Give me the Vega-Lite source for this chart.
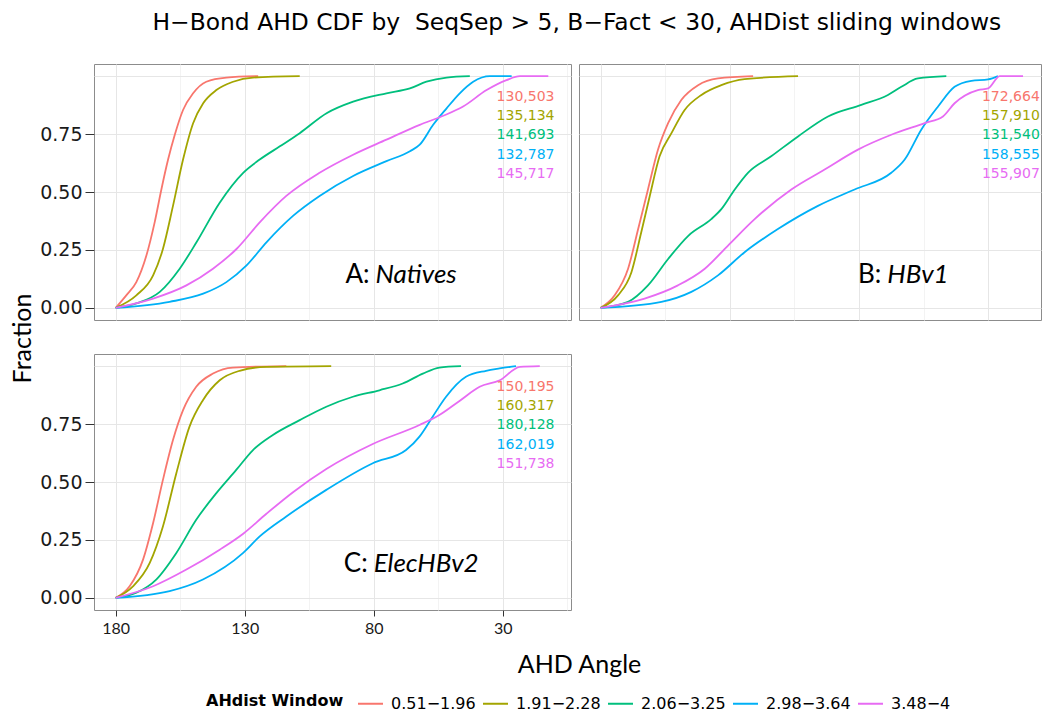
{
  "$schema": "https://vega.github.io/schema/vega-lite/v6.json",
  "background": "white",
  "padding": {"left": 10, "top": 11, "right": 0, "bottom": 0},
  "bounds": "flush",
  "align": "each",
  "columns": 2,
  "spacing": {"row": 34, "column": 8},
  "title": {"text": "H−Bond AHD CDF by \u00a0SeqSep > 5, B−Fact < 30, AHDist sliding windows", "font": "DejaVu Sans", "fontSize": 23.4, "fontWeight": "normal", "color": "#000", "anchor": "middle", "offset": 28, "dx": 51},
  "datasets": {
    "curves": [
      {"panel":"A","window":"0.51−1.96","angle":180,"frac":0},{"panel":"A","window":"0.51−1.96","angle":175.9,"frac":0.054},{"panel":"A","window":"0.51−1.96","angle":172,"frac":0.111},{"panel":"A","window":"0.51−1.96","angle":168.1,"frac":0.226},{"panel":"A","window":"0.51−1.96","angle":164.9,"frac":0.369},{"panel":"A","window":"0.51−1.96","angle":162.3,"frac":0.511},{"panel":"A","window":"0.51−1.96","angle":159.7,"frac":0.64},{"panel":"A","window":"0.51−1.96","angle":157.1,"frac":0.747},{"panel":"A","window":"0.51−1.96","angle":153.9,"frac":0.854},{"panel":"A","window":"0.51−1.96","angle":150,"frac":0.926},{"panel":"A","window":"0.51−1.96","angle":144.9,"frac":0.976},{"panel":"A","window":"0.51−1.96","angle":137.1,"frac":0.994},{"panel":"A","window":"0.51−1.96","angle":124.8,"frac":1},
      {"panel":"A","window":"1.91−2.28","angle":180,"frac":0},{"panel":"A","window":"1.91−2.28","angle":172,"frac":0.054},{"panel":"A","window":"1.91−2.28","angle":165.5,"frac":0.14},{"panel":"A","window":"1.91−2.28","angle":161.7,"frac":0.254},{"panel":"A","window":"1.91−2.28","angle":157.8,"frac":0.44},{"panel":"A","window":"1.91−2.28","angle":153.9,"frac":0.64},{"panel":"A","window":"1.91−2.28","angle":150,"frac":0.797},{"panel":"A","window":"1.91−2.28","angle":146.1,"frac":0.883},{"panel":"A","window":"1.91−2.28","angle":141,"frac":0.94},{"panel":"A","window":"1.91−2.28","angle":134.5,"frac":0.976},{"panel":"A","window":"1.91−2.28","angle":126.8,"frac":0.994},{"panel":"A","window":"1.91−2.28","angle":108.7,"frac":1},
      {"panel":"A","window":"2.06−3.25","angle":180,"frac":0},{"panel":"A","window":"2.06−3.25","angle":172,"frac":0.019},{"panel":"A","window":"2.06−3.25","angle":162.9,"frac":0.069},{"panel":"A","window":"2.06−3.25","angle":155.2,"frac":0.169},{"panel":"A","window":"2.06−3.25","angle":148.7,"frac":0.283},{"panel":"A","window":"2.06−3.25","angle":139.7,"frac":0.454},{"panel":"A","window":"2.06−3.25","angle":130.6,"frac":0.583},{"panel":"A","window":"2.06−3.25","angle":124.2,"frac":0.64},{"panel":"A","window":"2.06−3.25","angle":116.4,"frac":0.697},{"panel":"A","window":"2.06−3.25","angle":108.7,"frac":0.754},{"panel":"A","window":"2.06−3.25","angle":98.3,"frac":0.84},{"panel":"A","window":"2.06−3.25","angle":88,"frac":0.89},{"panel":"A","window":"2.06−3.25","angle":75.1,"frac":0.926},{"panel":"A","window":"2.06−3.25","angle":66,"frac":0.947},{"panel":"A","window":"2.06−3.25","angle":59.6,"frac":0.976},{"panel":"A","window":"2.06−3.25","angle":51.8,"frac":0.994},{"panel":"A","window":"2.06−3.25","angle":42.8,"frac":1},
      {"panel":"A","window":"2.98−3.64","angle":180,"frac":0},{"panel":"A","window":"2.98−3.64","angle":159.1,"frac":0.026},{"panel":"A","window":"2.98−3.64","angle":146.1,"frac":0.061},{"panel":"A","window":"2.98−3.64","angle":137.1,"frac":0.111},{"panel":"A","window":"2.98−3.64","angle":129.3,"frac":0.183},{"panel":"A","window":"2.98−3.64","angle":121.6,"frac":0.283},{"panel":"A","window":"2.98−3.64","angle":111.3,"frac":0.397},{"panel":"A","window":"2.98−3.64","angle":101,"frac":0.483},{"panel":"A","window":"2.98−3.64","angle":88,"frac":0.569},{"panel":"A","window":"2.98−3.64","angle":75.1,"frac":0.633},{"panel":"A","window":"2.98−3.64","angle":66,"frac":0.676},{"panel":"A","window":"2.98−3.64","angle":62.2,"frac":0.704},{"panel":"A","window":"2.98−3.64","angle":57,"frac":0.79},{"panel":"A","window":"2.98−3.64","angle":51.8,"frac":0.861},{"panel":"A","window":"2.98−3.64","angle":46.7,"frac":0.926},{"panel":"A","window":"2.98−3.64","angle":41.5,"frac":0.976},{"panel":"A","window":"2.98−3.64","angle":35,"frac":1},{"panel":"A","window":"2.98−3.64","angle":26.6,"frac":1},
      {"panel":"A","window":"3.48−4","angle":180,"frac":0},{"panel":"A","window":"3.48−4","angle":165.5,"frac":0.04},{"panel":"A","window":"3.48−4","angle":152.6,"frac":0.097},{"panel":"A","window":"3.48−4","angle":142.3,"frac":0.169},{"panel":"A","window":"3.48−4","angle":133.2,"frac":0.254},{"panel":"A","window":"3.48−4","angle":124.2,"frac":0.369},{"panel":"A","window":"3.48−4","angle":113.9,"frac":0.483},{"panel":"A","window":"3.48−4","angle":101,"frac":0.583},{"panel":"A","window":"3.48−4","angle":88,"frac":0.661},{"panel":"A","window":"3.48−4","angle":75.1,"frac":0.726},{"panel":"A","window":"3.48−4","angle":62.2,"frac":0.79},{"panel":"A","window":"3.48−4","angle":53.1,"frac":0.829},{"panel":"A","window":"3.48−4","angle":45.4,"frac":0.869},{"panel":"A","window":"3.48−4","angle":36.3,"frac":0.94},{"panel":"A","window":"3.48−4","angle":28.6,"frac":0.983},{"panel":"A","window":"3.48−4","angle":23.4,"frac":1},{"panel":"A","window":"3.48−4","angle":12.4,"frac":1},

      {"panel":"B","window":"0.51−1.96","angle":180,"frac":0},{"panel":"B","window":"0.51−1.96","angle":174.6,"frac":0.054},{"panel":"B","window":"0.51−1.96","angle":169.4,"frac":0.169},{"panel":"B","window":"0.51−1.96","angle":165.5,"frac":0.34},{"panel":"B","window":"0.51−1.96","angle":161.7,"frac":0.511},{"panel":"B","window":"0.51−1.96","angle":157.8,"frac":0.683},{"panel":"B","window":"0.51−1.96","angle":153.9,"frac":0.797},{"panel":"B","window":"0.51−1.96","angle":148.8,"frac":0.897},{"panel":"B","window":"0.51−1.96","angle":142.3,"frac":0.961},{"panel":"B","window":"0.51−1.96","angle":134.6,"frac":0.99},{"panel":"B","window":"0.51−1.96","angle":121,"frac":1},
      {"panel":"B","window":"1.91−2.28","angle":180,"frac":0},{"panel":"B","window":"1.91−2.28","angle":173.3,"frac":0.054},{"panel":"B","window":"1.91−2.28","angle":168.1,"frac":0.154},{"panel":"B","window":"1.91−2.28","angle":164.3,"frac":0.326},{"panel":"B","window":"1.91−2.28","angle":161,"frac":0.483},{"panel":"B","window":"1.91−2.28","angle":157.2,"frac":0.654},{"panel":"B","window":"1.91−2.28","angle":152.6,"frac":0.754},{"panel":"B","window":"1.91−2.28","angle":147.5,"frac":0.854},{"panel":"B","window":"1.91−2.28","angle":141,"frac":0.919},{"panel":"B","window":"1.91−2.28","angle":133.3,"frac":0.961},{"panel":"B","window":"1.91−2.28","angle":124.3,"frac":0.987},{"panel":"B","window":"1.91−2.28","angle":103.6,"frac":1},
      {"panel":"B","window":"2.06−3.25","angle":180,"frac":0},{"panel":"B","window":"2.06−3.25","angle":169.4,"frac":0.026},{"panel":"B","window":"2.06−3.25","angle":161.7,"frac":0.097},{"panel":"B","window":"2.06−3.25","angle":153.9,"frac":0.211},{"panel":"B","window":"2.06−3.25","angle":146.1,"frac":0.311},{"panel":"B","window":"2.06−3.25","angle":137.2,"frac":0.383},{"panel":"B","window":"2.06−3.25","angle":133.3,"frac":0.426},{"panel":"B","window":"2.06−3.25","angle":128.1,"frac":0.511},{"panel":"B","window":"2.06−3.25","angle":123,"frac":0.583},{"panel":"B","window":"2.06−3.25","angle":114,"frac":0.654},{"panel":"B","window":"2.06−3.25","angle":103.6,"frac":0.74},{"panel":"B","window":"2.06−3.25","angle":92,"frac":0.826},{"panel":"B","window":"2.06−3.25","angle":79.1,"frac":0.876},{"panel":"B","window":"2.06−3.25","angle":68.8,"frac":0.919},{"panel":"B","window":"2.06−3.25","angle":63.6,"frac":0.954},{"panel":"B","window":"2.06−3.25","angle":57.2,"frac":0.99},{"panel":"B","window":"2.06−3.25","angle":46.2,"frac":1},
      {"panel":"B","window":"2.98−3.64","angle":180,"frac":0},{"panel":"B","window":"2.98−3.64","angle":156.5,"frac":0.026},{"panel":"B","window":"2.98−3.64","angle":144.9,"frac":0.069},{"panel":"B","window":"2.98−3.64","angle":134.6,"frac":0.14},{"panel":"B","window":"2.98−3.64","angle":124.3,"frac":0.24},{"panel":"B","window":"2.98−3.64","angle":111.4,"frac":0.34},{"panel":"B","window":"2.98−3.64","angle":95.9,"frac":0.44},{"panel":"B","window":"2.98−3.64","angle":81.7,"frac":0.511},{"panel":"B","window":"2.98−3.64","angle":67.5,"frac":0.583},{"panel":"B","window":"2.98−3.64","angle":62.3,"frac":0.64},{"panel":"B","window":"2.98−3.64","angle":55.9,"frac":0.769},{"panel":"B","window":"2.98−3.64","angle":49.4,"frac":0.869},{"panel":"B","window":"2.98−3.64","angle":43,"frac":0.954},{"panel":"B","window":"2.98−3.64","angle":36.5,"frac":0.98},{"panel":"B","window":"2.98−3.64","angle":30,"frac":0.986},{"panel":"B","window":"2.98−3.64","angle":26.2,"frac":1},
      {"panel":"B","window":"3.48−4","angle":180,"frac":0},{"panel":"B","window":"3.48−4","angle":163,"frac":0.04},{"panel":"B","window":"3.48−4","angle":150.1,"frac":0.097},{"panel":"B","window":"3.48−4","angle":139.7,"frac":0.169},{"panel":"B","window":"3.48−4","angle":130.7,"frac":0.269},{"panel":"B","window":"3.48−4","angle":120.4,"frac":0.383},{"panel":"B","window":"3.48−4","angle":106.2,"frac":0.511},{"panel":"B","window":"3.48−4","angle":93.3,"frac":0.597},{"panel":"B","window":"3.48−4","angle":80.4,"frac":0.683},{"panel":"B","window":"3.48−4","angle":67.5,"frac":0.747},{"panel":"B","window":"3.48−4","angle":54.6,"frac":0.797},{"panel":"B","window":"3.48−4","angle":47.5,"frac":0.826},{"panel":"B","window":"3.48−4","angle":43,"frac":0.883},{"panel":"B","window":"3.48−4","angle":34,"frac":0.94},{"panel":"B","window":"3.48−4","angle":30,"frac":0.947},{"panel":"B","window":"3.48−4","angle":25.5,"frac":1},{"panel":"B","window":"3.48−4","angle":16.5,"frac":1},

      {"panel":"C","window":"0.51−1.96","angle":180,"frac":0},{"panel":"C","window":"0.51−1.96","angle":174.6,"frac":0.05},{"panel":"C","window":"0.51−1.96","angle":169.4,"frac":0.165},{"panel":"C","window":"0.51−1.96","angle":165.5,"frac":0.323},{"panel":"C","window":"0.51−1.96","angle":161.7,"frac":0.509},{"panel":"C","window":"0.51−1.96","angle":157.8,"frac":0.681},{"panel":"C","window":"0.51−1.96","angle":153.9,"frac":0.81},{"panel":"C","window":"0.51−1.96","angle":148.8,"frac":0.911},{"panel":"C","window":"0.51−1.96","angle":142.3,"frac":0.968},{"panel":"C","window":"0.51−1.96","angle":134.6,"frac":0.994},{"panel":"C","window":"0.51−1.96","angle":113.9,"frac":1},
      {"panel":"C","window":"1.91−2.28","angle":180,"frac":0},{"panel":"C","window":"1.91−2.28","angle":173.3,"frac":0.05},{"panel":"C","window":"1.91−2.28","angle":166.8,"frac":0.151},{"panel":"C","window":"1.91−2.28","angle":161.7,"frac":0.308},{"panel":"C","window":"1.91−2.28","angle":156.5,"frac":0.538},{"panel":"C","window":"1.91−2.28","angle":151.4,"frac":0.739},{"panel":"C","window":"1.91−2.28","angle":146.2,"frac":0.853},{"panel":"C","window":"1.91−2.28","angle":139.7,"frac":0.939},{"panel":"C","window":"1.91−2.28","angle":132,"frac":0.98},{"panel":"C","window":"1.91−2.28","angle":121.7,"frac":0.997},{"panel":"C","window":"1.91−2.28","angle":96.5,"frac":1},
      {"panel":"C","window":"2.06−3.25","angle":180,"frac":0},{"panel":"C","window":"2.06−3.25","angle":172,"frac":0.022},{"panel":"C","window":"2.06−3.25","angle":164.3,"frac":0.079},{"panel":"C","window":"2.06−3.25","angle":156.5,"frac":0.194},{"panel":"C","window":"2.06−3.25","angle":148.8,"frac":0.337},{"panel":"C","window":"2.06−3.25","angle":141,"frac":0.452},{"panel":"C","window":"2.06−3.25","angle":133.3,"frac":0.552},{"panel":"C","window":"2.06−3.25","angle":126.8,"frac":0.638},{"panel":"C","window":"2.06−3.25","angle":119.1,"frac":0.703},{"panel":"C","window":"2.06−3.25","angle":108.7,"frac":0.767},{"panel":"C","window":"2.06−3.25","angle":98.4,"frac":0.825},{"panel":"C","window":"2.06−3.25","angle":88.1,"frac":0.868},{"panel":"C","window":"2.06−3.25","angle":77.8,"frac":0.896},{"panel":"C","window":"2.06−3.25","angle":68.8,"frac":0.925},{"panel":"C","window":"2.06−3.25","angle":61,"frac":0.968},{"panel":"C","window":"2.06−3.25","angle":54.6,"frac":0.994},{"panel":"C","window":"2.06−3.25","angle":46.2,"frac":1},
      {"panel":"C","window":"2.98−3.64","angle":180,"frac":0},{"panel":"C","window":"2.98−3.64","angle":159.1,"frac":0.029},{"panel":"C","window":"2.98−3.64","angle":146.2,"frac":0.079},{"panel":"C","window":"2.98−3.64","angle":130.6,"frac":0.194},{"panel":"C","window":"2.98−3.64","angle":124.2,"frac":0.265},{"panel":"C","window":"2.98−3.64","angle":113.9,"frac":0.351},{"panel":"C","window":"2.98−3.64","angle":98.4,"frac":0.466},{"panel":"C","window":"2.98−3.64","angle":80.4,"frac":0.581},{"panel":"C","window":"2.98−3.64","angle":67.5,"frac":0.638},{"panel":"C","window":"2.98−3.64","angle":62.3,"frac":0.696},{"panel":"C","window":"2.98−3.64","angle":57.2,"frac":0.782},{"panel":"C","window":"2.98−3.64","angle":52,"frac":0.868},{"panel":"C","window":"2.98−3.64","angle":44.3,"frac":0.954},{"panel":"C","window":"2.98−3.64","angle":36.5,"frac":0.98},{"panel":"C","window":"2.98−3.64","angle":31.3,"frac":0.99},{"panel":"C","window":"2.98−3.64","angle":24.9,"frac":1},
      {"panel":"C","window":"3.48−4","angle":180,"frac":0},{"panel":"C","window":"3.48−4","angle":165.5,"frac":0.05},{"panel":"C","window":"3.48−4","angle":152.6,"frac":0.122},{"panel":"C","window":"3.48−4","angle":139.7,"frac":0.208},{"panel":"C","window":"3.48−4","angle":130.6,"frac":0.277},{"panel":"C","window":"3.48−4","angle":121.6,"frac":0.363},{"panel":"C","window":"3.48−4","angle":111.3,"frac":0.456},{"panel":"C","window":"3.48−4","angle":98.4,"frac":0.556},{"panel":"C","window":"3.48−4","angle":80.4,"frac":0.664},{"panel":"C","window":"3.48−4","angle":62.3,"frac":0.746},{"panel":"C","window":"3.48−4","angle":54.6,"frac":0.789},{"panel":"C","window":"3.48−4","angle":46.8,"frac":0.85},{"panel":"C","window":"3.48−4","angle":39,"frac":0.911},{"panel":"C","window":"3.48−4","angle":31.2,"frac":0.939},{"panel":"C","window":"3.48−4","angle":23.4,"frac":0.997},{"panel":"C","window":"3.48−4","angle":15.7,"frac":1}
    ],
    "counts": [
      {"panel":"A","window":"0.51−1.96","n":"130,503","angle":10,"frac":0.912},
      {"panel":"A","window":"1.91−2.28","n":"135,134","angle":10,"frac":0.828},
      {"panel":"A","window":"2.06−3.25","n":"141,693","angle":10,"frac":0.744},
      {"panel":"A","window":"2.98−3.64","n":"132,787","angle":10,"frac":0.66},
      {"panel":"A","window":"3.48−4","n":"145,717","angle":10,"frac":0.576},
      {"panel":"B","window":"0.51−1.96","n":"172,664","angle":10,"frac":0.912},
      {"panel":"B","window":"1.91−2.28","n":"157,910","angle":10,"frac":0.828},
      {"panel":"B","window":"2.06−3.25","n":"131,540","angle":10,"frac":0.744},
      {"panel":"B","window":"2.98−3.64","n":"158,555","angle":10,"frac":0.66},
      {"panel":"B","window":"3.48−4","n":"155,907","angle":10,"frac":0.576},
      {"panel":"C","window":"0.51−1.96","n":"150,195","angle":10,"frac":0.912},
      {"panel":"C","window":"1.91−2.28","n":"160,317","angle":10,"frac":0.828},
      {"panel":"C","window":"2.06−3.25","n":"180,128","angle":10,"frac":0.744},
      {"panel":"C","window":"2.98−3.64","n":"162,019","angle":10,"frac":0.66},
      {"panel":"C","window":"3.48−4","n":"151,738","angle":10,"frac":0.576}
    ],
    "tags": [
      {"panel":"A","letter":"A:","name":"Natives","angle":80.5,"frac":0.14},
      {"panel":"B","letter":"B:","name":"HBv1","angle":70.2,"frac":0.14},
      {"panel":"C","letter":"C:","name":"ElecHBv2","angle":81.2,"frac":0.144}
    ]
  },
  "concat": [
    {
      "width": 477, "height": 256,
      "layer": [
        {
          "data": {"name": "curves"},
          "transform": [{"filter": "datum.panel == 'A'"}],
          "mark": {"type": "line", "interpolate": "monotone", "strokeWidth": 1.8},
          "encoding": {
            "x": {"field": "angle", "type": "quantitative", "scale": {"domain": [3.6, 188.4], "reverse": true, "nice": false, "zero": false},
              "axis": {"values": [180,155,130,105,80,55,30,5], "labels": false, "ticks": false, "domain": false, "title": null,
                "gridColor": {"condition": {"test": "(180 - datum.value) % 50 != 0", "value": "#f3f3f3"}, "value": "#e6e6e6"}}},
            "y": {"field": "frac", "type": "quantitative", "scale": {"domain": [-0.0525, 1.0525], "nice": false, "zero": false},
              "axis": {"values": [0,0.125,0.25,0.375,0.5,0.625,0.75,0.875,1], "title": "Fraction", "titleY": 274,
                "labelExpr": "(datum.value*8) % 2 == 0 && datum.value < 1 ? format(datum.value, '.2f') : ''",
                "tickOpacity": {"condition": {"test": "(datum.value*8) % 2 == 1 || datum.value == 1", "value": 0}, "value": 1},
                "gridColor": {"condition": {"test": "(datum.value*8) % 2 == 1", "value": "#f3f3f3"}, "value": "#e6e6e6"}}},
            "color": {"field": "window", "type": "nominal", "legend": {"title": "AHdist Window"}},
            "order": {"field": "angle", "sort": "descending"}
          }
        },
        {
          "data": {"name": "counts"},
          "transform": [{"filter": "datum.panel == 'A'"}],
          "mark": {"type": "text", "align": "right", "baseline": "middle", "font": "DejaVu Sans", "fontSize": 14, "clip": true},
          "encoding": {
            "x": {"field": "angle", "type": "quantitative"},
            "y": {"field": "frac", "type": "quantitative"},
            "text": {"field": "n"},
            "color": {"field": "window", "type": "nominal"}
          }
        },
        {
          "data": {"name": "tags"},
          "transform": [{"filter": "datum.panel == 'A'"}],
          "mark": {"type": "text", "align": "right", "baseline": "middle", "font": "Lato", "fontSize": 26, "color": "#000", "dx": -3},
          "encoding": {"x": {"field": "angle", "type": "quantitative"}, "y": {"field": "frac", "type": "quantitative"}, "text": {"field": "letter"}}
        },
        {
          "data": {"name": "tags"},
          "transform": [{"filter": "datum.panel == 'A'"}],
          "mark": {"type": "text", "align": "left", "baseline": "middle", "font": "Lato", "fontSize": 26, "fontStyle": "italic", "color": "#000", "dx": 3},
          "encoding": {"x": {"field": "angle", "type": "quantitative"}, "y": {"field": "frac", "type": "quantitative"}, "text": {"field": "name"}}
        }
      ]
    },
    {
      "width": 462, "height": 256,
      "layer": [
        {
          "data": {"name": "curves"},
          "transform": [{"filter": "datum.panel == 'B'"}],
          "mark": {"type": "line", "interpolate": "monotone", "strokeWidth": 1.8},
          "encoding": {
            "x": {"field": "angle", "type": "quantitative", "scale": {"domain": [9.54, 188.4], "reverse": true, "nice": false, "zero": false},
              "axis": {"values": [180,155,130,105,80,55,30], "labels": false, "ticks": false, "domain": false, "title": null,
                "gridColor": {"condition": {"test": "(180 - datum.value) % 50 != 0", "value": "#f3f3f3"}, "value": "#e6e6e6"}}},
            "y": {"field": "frac", "type": "quantitative", "scale": {"domain": [-0.0525, 1.0525], "nice": false, "zero": false},
              "axis": {"values": [0,0.125,0.25,0.375,0.5,0.625,0.75,0.875,1], "labels": false, "ticks": false, "domain": false, "title": null,
                "gridColor": {"condition": {"test": "(datum.value*8) % 2 == 1", "value": "#f3f3f3"}, "value": "#e6e6e6"}}},
            "color": {"field": "window", "type": "nominal"},
            "order": {"field": "angle", "sort": "descending"}
          }
        },
        {
          "data": {"name": "counts"},
          "transform": [{"filter": "datum.panel == 'B'"}],
          "mark": {"type": "text", "align": "right", "baseline": "middle", "font": "DejaVu Sans", "fontSize": 14, "clip": true},
          "encoding": {
            "x": {"field": "angle", "type": "quantitative"},
            "y": {"field": "frac", "type": "quantitative"},
            "text": {"field": "n"},
            "color": {"field": "window", "type": "nominal"}
          }
        },
        {
          "data": {"name": "tags"},
          "transform": [{"filter": "datum.panel == 'B'"}],
          "mark": {"type": "text", "align": "right", "baseline": "middle", "font": "Lato", "fontSize": 26, "color": "#000", "dx": -3},
          "encoding": {"x": {"field": "angle", "type": "quantitative"}, "y": {"field": "frac", "type": "quantitative"}, "text": {"field": "letter"}}
        },
        {
          "data": {"name": "tags"},
          "transform": [{"filter": "datum.panel == 'B'"}],
          "mark": {"type": "text", "align": "left", "baseline": "middle", "font": "Lato", "fontSize": 26, "fontStyle": "italic", "color": "#000", "dx": 3},
          "encoding": {"x": {"field": "angle", "type": "quantitative"}, "y": {"field": "frac", "type": "quantitative"}, "text": {"field": "name"}}
        }
      ]
    },
    {
      "width": 477, "height": 256,
      "layer": [
        {
          "data": {"name": "curves"},
          "transform": [{"filter": "datum.panel == 'C'"}],
          "mark": {"type": "line", "interpolate": "monotone", "strokeWidth": 1.8},
          "encoding": {
            "x": {"field": "angle", "type": "quantitative", "scale": {"domain": [3.6, 188.4], "reverse": true, "nice": false, "zero": false},
              "axis": {"values": [180,155,130,105,80,55,30,5], "title": "AHD Angle", "titleX": 485, "format": "d",
                "labelExpr": "(180 - datum.value) % 50 == 0 ? datum.label : ''",
                "tickOpacity": {"condition": {"test": "(180 - datum.value) % 50 != 0", "value": 0}, "value": 1},
                "gridColor": {"condition": {"test": "(180 - datum.value) % 50 != 0", "value": "#f3f3f3"}, "value": "#e6e6e6"}}},
            "y": {"field": "frac", "type": "quantitative", "scale": {"domain": [-0.0525, 1.0525], "nice": false, "zero": false},
              "axis": {"values": [0,0.125,0.25,0.375,0.5,0.625,0.75,0.875,1], "title": null,
                "labelExpr": "(datum.value*8) % 2 == 0 && datum.value < 1 ? format(datum.value, '.2f') : ''",
                "tickOpacity": {"condition": {"test": "(datum.value*8) % 2 == 1 || datum.value == 1", "value": 0}, "value": 1},
                "gridColor": {"condition": {"test": "(datum.value*8) % 2 == 1", "value": "#f3f3f3"}, "value": "#e6e6e6"}}},
            "color": {"field": "window", "type": "nominal"},
            "order": {"field": "angle", "sort": "descending"}
          }
        },
        {
          "data": {"name": "counts"},
          "transform": [{"filter": "datum.panel == 'C'"}],
          "mark": {"type": "text", "align": "right", "baseline": "middle", "font": "DejaVu Sans", "fontSize": 14, "clip": true},
          "encoding": {
            "x": {"field": "angle", "type": "quantitative"},
            "y": {"field": "frac", "type": "quantitative"},
            "text": {"field": "n"},
            "color": {"field": "window", "type": "nominal"}
          }
        },
        {
          "data": {"name": "tags"},
          "transform": [{"filter": "datum.panel == 'C'"}],
          "mark": {"type": "text", "align": "right", "baseline": "middle", "font": "Lato", "fontSize": 26, "color": "#000", "dx": -3},
          "encoding": {"x": {"field": "angle", "type": "quantitative"}, "y": {"field": "frac", "type": "quantitative"}, "text": {"field": "letter"}}
        },
        {
          "data": {"name": "tags"},
          "transform": [{"filter": "datum.panel == 'C'"}],
          "mark": {"type": "text", "align": "left", "baseline": "middle", "font": "Lato", "fontSize": 26, "fontStyle": "italic", "color": "#000", "dx": 3},
          "encoding": {"x": {"field": "angle", "type": "quantitative"}, "y": {"field": "frac", "type": "quantitative"}, "text": {"field": "name"}}
        }
      ]
    }
  ],
  "resolve": {"scale": {"color": "shared"}},
  "config": {
    "view": {"stroke": "#8c8c8c", "strokeWidth": 1},
    "range": {"category": ["#F8766D", "#A3A500", "#00BF7D", "#00B0F6", "#E76BF3"]},
    "axis": {"gridWidth": 1, "domain": false, "tickColor": "#333", "labelColor": "#1a1a1a", "titleColor": "#000", "titleFontWeight": "normal"},
    "axisX": {"tickSize": 6, "labelPadding": 4, "labelFont": "Lato", "labelFontSize": 16, "titleFont": "Lato", "titleFontSize": 25, "titlePadding": 16, "labelAngle": 0},
    "axisY": {"tickSize": 9, "labelPadding": 3, "labelFont": "DejaVu Sans", "labelFontSize": 19, "titleFont": "Lato", "titleFontSize": 25, "titlePadding": 4},
    "legend": {
      "orient": "none", "legendX": 112, "legendY": 626, "direction": "horizontal", "columns": 5,
      "titleOrient": "left", "titleFont": "DejaVu Sans", "titleFontSize": 16, "titleFontWeight": "bold", "titleColor": "#000", "titlePadding": 13, "titleBaseline": "middle",
      "labelFont": "DejaVu Sans", "labelFontSize": 16, "labelColor": "#000", "labelOffset": 7, "columnPadding": 3,
      "symbolType": "stroke", "symbolSize": 625, "symbolStrokeWidth": 2
    }
  }
}
